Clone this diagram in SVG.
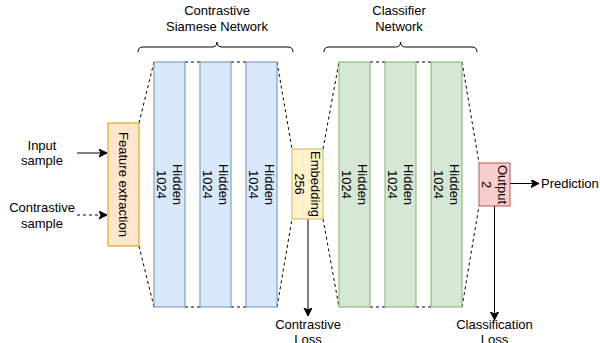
<svg xmlns="http://www.w3.org/2000/svg" width="600" height="343" viewBox="0 0 600 343">
<defs>
<style>
text{font-family:"Liberation Sans",Arial,sans-serif;font-size:13px;fill:#000}
.c{text-anchor:middle}
.blue{fill:#dae8fc;stroke:#6c8ebf;stroke-width:1}
.green{fill:#d5e8d4;stroke:#82b366;stroke-width:1}
.orange{fill:#ffe6cc;stroke:#d79b00;stroke-width:1}
.yellow{fill:#fff2cc;stroke:#d6b656;stroke-width:1}
.red{fill:#f8cecc;stroke:#b85450;stroke-width:1}
.dash{fill:none;stroke:#000;stroke-width:1;stroke-dasharray:3 3}
.line{fill:none;stroke:#000;stroke-width:1}
.brace{fill:none;stroke:#000;stroke-width:1}
</style>
<marker id="arr" markerWidth="10" markerHeight="10" refX="8" refY="4" orient="auto" markerUnits="userSpaceOnUse">
<path d="M0,0 L8,4 L0,8 L2,4 Z" fill="#000" stroke="#000" stroke-width="1"/>
</marker>
</defs>
<rect width="600" height="343" fill="#fff"/>

<g id="connectors">
<path class="dash" d="M139,123 L154,62 M139,246 L154,307"/>
<path class="dash" d="M185,62 L200,62 M185,307 L200,307 M231,62 L246,62 M231,307 L246,307"/>
<path class="dash" d="M277,62 L292,149 M277,307 L292,219"/>
<path class="dash" d="M323,149 L339,62 M323,219 L339,307"/>
<path class="dash" d="M370,62 L385,62 M370,307 L385,307 M416,62 L431,62 M416,307 L431,307"/>
<path class="dash" d="M462,62 L479,163 M462,307 L479,206"/>
<path class="line" d="M77,153 L107,153" marker-end="url(#arr)"/>
<path class="dash" d="M77,215 L107,215" marker-end="url(#arr)"/>
<path class="line" d="M308,219 L308,316" marker-end="url(#arr)"/>
<path class="line" d="M510,183.5 L539,183.5" marker-end="url(#arr)"/>
<path class="line" d="M494.5,206 L494.5,320" marker-end="url(#arr)"/>
</g>

<g id="brace-siamese">
<path class="brace" d="M138,52 Q138,47 143,47 L212,47 Q217,47 217,42 Q217,47 222,47 L288,47 Q293,47 293,52"/>
<text class="c" x="217" y="15">Contrastive</text>
<text class="c" x="217" y="30.6">Siamese Network</text>
</g>
<g id="brace-classifier">
<path class="brace" d="M324,52 Q324,47 329,47 L395.5,47 Q400.5,47 400.5,42 Q400.5,47 405.5,47 L472,47 Q477,47 477,52"/>
<text class="c" x="399" y="15">Classifier</text>
<text class="c" x="399" y="30.6">Network</text>
</g>

<g id="input-sample">
<text class="c" x="42" y="149.7">Input</text>
<text class="c" x="42" y="165.3">sample</text>
</g>
<g id="contrastive-sample">
<text class="c" x="42" y="212">Contrastive</text>
<text class="c" x="42" y="227.6">sample</text>
</g>

<g id="feature-extraction">
<rect class="orange" x="108" y="123" width="31" height="123"/>
<text class="c" transform="translate(123.5,184.5) rotate(90)" y="4.5">Feature extraction</text>
</g>

<g id="hidden-s1">
<rect class="blue" x="154" y="62" width="31" height="245"/>
<g transform="translate(169.5,184.5) rotate(90)"><text class="c" y="-3.3">Hidden</text><text class="c" y="12.3">1024</text></g>
</g>
<g id="hidden-s2">
<rect class="blue" x="200" y="62" width="31" height="245"/>
<g transform="translate(215.5,184.5) rotate(90)"><text class="c" y="-3.3">Hidden</text><text class="c" y="12.3">1024</text></g>
</g>
<g id="hidden-s3">
<rect class="blue" x="246" y="62" width="31" height="245"/>
<g transform="translate(261.5,184.5) rotate(90)"><text class="c" y="-3.3">Hidden</text><text class="c" y="12.3">1024</text></g>
</g>

<g id="embedding">
<rect class="yellow" x="292" y="149" width="31" height="70"/>
<g transform="translate(307.5,184) rotate(90)"><text class="c" y="-3.3">Embedding</text><text class="c" y="12.3">256</text></g>
</g>

<g id="hidden-c1">
<rect class="green" x="339" y="62" width="31" height="245"/>
<g transform="translate(354.5,184.5) rotate(90)"><text class="c" y="-3.3">Hidden</text><text class="c" y="12.3">1024</text></g>
</g>
<g id="hidden-c2">
<rect class="green" x="385" y="62" width="31" height="245"/>
<g transform="translate(400.5,184.5) rotate(90)"><text class="c" y="-3.3">Hidden</text><text class="c" y="12.3">1024</text></g>
</g>
<g id="hidden-c3">
<rect class="green" x="431" y="62" width="31" height="245"/>
<g transform="translate(446.5,184.5) rotate(90)"><text class="c" y="-3.3">Hidden</text><text class="c" y="12.3">1024</text></g>
</g>

<g id="output">
<rect class="red" x="479" y="163" width="31" height="43"/>
<g transform="translate(494.5,184.5) rotate(90)"><text class="c" y="-3.3">Output</text><text class="c" y="12.3">2</text></g>
</g>

<g id="prediction">
<text x="541" y="188">Prediction</text>
</g>
<g id="contrastive-loss">
<text class="c" x="308" y="328.5">Contrastive</text>
<text class="c" x="308" y="344">Loss</text>
</g>
<g id="classification-loss">
<text class="c" x="494.5" y="328.5">Classification</text>
<text class="c" x="494.5" y="344">Loss</text>
</g>
</svg>
